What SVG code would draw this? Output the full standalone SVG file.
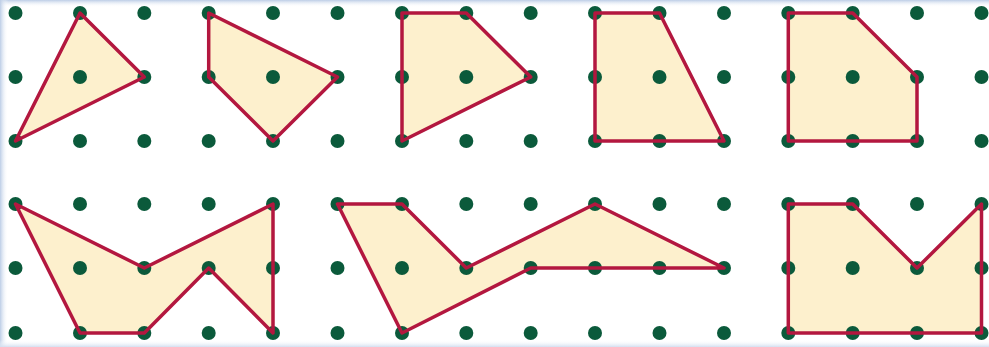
<svg xmlns="http://www.w3.org/2000/svg" xmlns:xlink="http://www.w3.org/1999/xlink" width="989" height="347" viewBox="0 0 989 347">
<style>
.fill{fill:#fdf0cd;stroke:none}
.edge{fill:none;stroke:#b3173f;stroke-width:3.5;stroke-linejoin:round}
.dot{fill:#0b5a3b}
</style>
<defs>
<linearGradient id="topg" x1="0" y1="0" x2="0" y2="1"><stop offset="0" stop-color="#bccde6"/><stop offset="1" stop-color="#ffffff" stop-opacity="0"/></linearGradient>
<linearGradient id="leftg" x1="0" y1="0" x2="1" y2="0"><stop offset="0" stop-color="#bccde6"/><stop offset="1" stop-color="#ffffff" stop-opacity="0"/></linearGradient>
<linearGradient id="botg" x1="0" y1="1" x2="0" y2="0"><stop offset="0" stop-color="#d3dff0"/><stop offset="1" stop-color="#ffffff" stop-opacity="0"/></linearGradient>
<polygon id="s1" points="80,13 144.3,77 15.5,141"/>
<polygon id="s2" points="208.7,13 337.5,77 273,141 208.7,77"/>
<polygon id="s3" points="402,13 466.3,13 530.7,77 402,141"/>
<polygon id="s4" points="595,13 659.5,13 724,141 595,141"/>
<polygon id="s5" points="788.3,13 852.7,13 917,77 917,141 788.3,141"/>
<polygon id="s6" points="15.5,204 144.3,268 273,204 273,333 208.7,268 144.3,333 80,333"/>
<polygon id="s7" points="337.5,204 402,204 466.3,268 595,204 724,268 530.7,268 402,333"/>
<polygon id="s8" points="788.3,204 852.7,204 917,268 981.5,204 981.5,333 788.3,333"/>
</defs>
<rect width="989" height="347" fill="#ffffff"/>
<rect width="989" height="7" fill="url(#topg)"/>
<rect width="8" height="347" fill="url(#leftg)"/>
<rect y="340" width="989" height="7" fill="url(#botg)"/>
<g id="fills">
<use xlink:href="#s1" class="fill"/><use xlink:href="#s2" class="fill"/><use xlink:href="#s3" class="fill"/><use xlink:href="#s4" class="fill"/>
<use xlink:href="#s5" class="fill"/><use xlink:href="#s6" class="fill"/><use xlink:href="#s7" class="fill"/><use xlink:href="#s8" class="fill"/>
</g>
<g id="dots" class="dot">
<g id="row0">
<circle cx="15.5" cy="13" r="7"/><circle cx="80" cy="13" r="7"/><circle cx="144.3" cy="13" r="7"/><circle cx="208.7" cy="13" r="7"/><circle cx="273" cy="13" r="7"/><circle cx="337.5" cy="13" r="7"/><circle cx="402" cy="13" r="7"/><circle cx="466.3" cy="13" r="7"/><circle cx="530.7" cy="13" r="7"/><circle cx="595" cy="13" r="7"/><circle cx="659.5" cy="13" r="7"/><circle cx="724" cy="13" r="7"/><circle cx="788.3" cy="13" r="7"/><circle cx="852.7" cy="13" r="7"/><circle cx="917" cy="13" r="7"/><circle cx="981.5" cy="13" r="7"/>
</g>
<use xlink:href="#row0" y="64"/>
<use xlink:href="#row0" y="128"/>
<use xlink:href="#row0" y="191"/>
<use xlink:href="#row0" y="255"/>
<use xlink:href="#row0" y="320"/>
</g>
<g id="edges">
<use xlink:href="#s1" class="edge"/><use xlink:href="#s2" class="edge"/><use xlink:href="#s3" class="edge"/><use xlink:href="#s4" class="edge"/>
<use xlink:href="#s5" class="edge"/><use xlink:href="#s6" class="edge"/><use xlink:href="#s7" class="edge"/><use xlink:href="#s8" class="edge"/>
</g>
</svg>
